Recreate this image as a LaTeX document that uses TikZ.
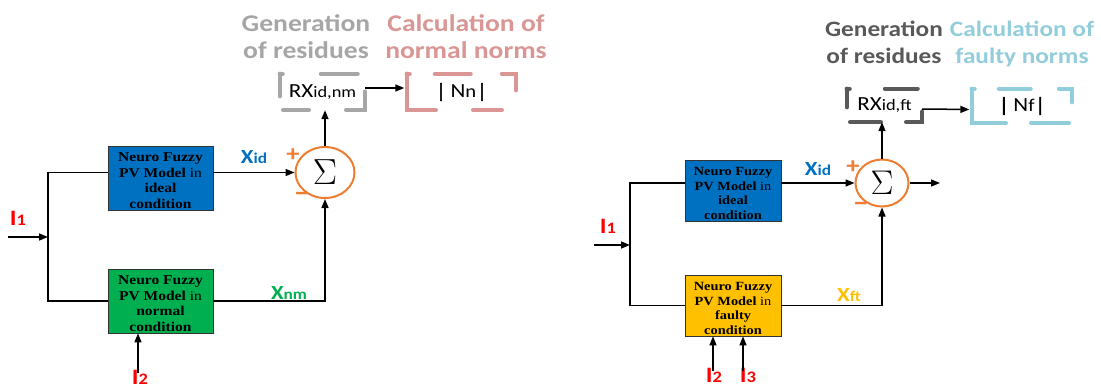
\documentclass[tikz,border=0pt]{standalone}
\usepackage{fontspec}
\setmainfont{Carlito}[FakeStretch=1.15]
\newfontfamily\modelfont{Liberation Serif}[FakeStretch=1.15]
\newfontfamily\barfont{Carlito}[FakeBold=2.5]
\usetikzlibrary{arrows.meta,shapes.geometric}

\definecolor{mblue}{HTML}{0070C0}
\definecolor{mgreen}{HTML}{00B050}
\definecolor{myellow}{HTML}{FFC000}
\definecolor{sumorange}{HTML}{ED7D31}
\definecolor{inred}{HTML}{FF0000}
\definecolor{resgray}{HTML}{A6A6A6}
\definecolor{normpink}{HTML}{D99694}
\definecolor{resdark}{HTML}{595959}
\definecolor{normcyan}{HTML}{92CDDC}

% symbol with a smaller trailing index set on the baseline
\newcommand\bigsmall[4]{{\fontsize{#1}{#1}\selectfont #2}{\fontsize{#3}{#3}\selectfont #4}}
% norm bars
\newcommand\nbar{{\barfont\fontsize{20}{20}\selectfont|}}
% pushes the model text a little below the block centre
\newcommand\topstrut{\rule{0pt}{14pt}}

\tikzset{
  model/.style={draw=black!80, line width=0.8pt, inner sep=0pt, align=center, text=black},
  wire/.style={line width=1.5pt},
  arr/.style={wire, -{Triangle[length=9pt,width=7pt]}},
  sumnode/.style={ellipse, draw=sumorange, line width=2pt, inner sep=0pt,
                  font=\fontsize{20.74}{20.74}\selectfont},
  lbl/.style={inner sep=0pt, font=\bfseries},
  sig/.style={inner sep=0pt, text=sumorange, font=\bfseries\fontsize{23}{23}\selectfont},
  minus/.style={inner sep=0pt, text=sumorange, font=\bfseries\fontsize{28}{28}\selectfont},
  headtxt/.style={inner sep=0pt, align=center, anchor=north},
  resid/.style={inner sep=0pt, font=\fontsize{20}{20}\selectfont},
  resframe/.style={line width=4.5pt, line cap=round},
}

\begin{document}
\begin{tikzpicture}[x=1pt, y=-1pt]
\useasboundingbox (0,0) rectangle (1101,388);

% ===================== normal-condition residual generator =====================
\node[model, fill=mblue, minimum width=105pt, minimum height=64pt,
      font=\modelfont\fontsize{13.5}{15.7}\selectfont] (L1) at (160.5,178)
  {\topstrut\textbf{Neuro Fuzzy}\\\textbf{PV Model} in\\\textbf{ideal}\\\textbf{condition}};
\node[model, fill=mgreen, minimum width=105pt, minimum height=64pt,
      font=\modelfont\fontsize{13.5}{15.7}\selectfont] (L2) at (160.5,301)
  {\topstrut\textbf{Neuro Fuzzy}\\\textbf{PV Model} in\\\textbf{normal}\\\textbf{condition}};
\node[sumnode, minimum width=59pt, minimum height=51pt] (Ls) at (325,172.5)
  {\scalebox{1.75}{$\Sigma$}};

\coordinate (Lj) at (48,237);
\coordinate (Lin) at (8,237);

\draw[wire] (L1.west |- Ls.center) -| (Lj) |- (L2.west);
\draw[arr] (Lin) -- (Lj);
\draw[arr] (L1.east |- Ls.center) -- (Ls.west);
\draw[arr] (L2.east) -| (Ls.south);

\node[lbl, text=inred] (Li1) at (18,218) {\bigsmall{22}{I}{16}{1}};
\node[lbl, text=inred] (Li2) at (140,377) {\bigsmall{22}{I}{16}{2}};
\draw[arr] (Li2.north) ++(-2,3) coordinate (Li2t) -- (Li2t |- L2.south);

\node[lbl, text=mblue]  (Lxid) at (254,157) {\bigsmall{20}{X}{15}{id}};
\node[lbl, text=mgreen] (Lxnm) at (289,293) {\bigsmall{20}{X}{15}{nm}};
\node[sig]   (Lplus)  at (293,155) {+};
\node[minus] (Lminus) at (302,197) {–};

% residue and norm blocks
\node[resid, minimum width=85pt, minimum height=36pt] (Lr) at (322.5,92)
  {RX\bigsmall{20}{}{16}{id,nm}};
\node[resid, minimum width=109pt, minimum height=36pt] (Ln) at (461.5,92)
  {\nbar\hspace{5pt}N\bigsmall{20}{}{18}{n}\hspace{1pt}\nbar};
\draw[resframe, draw=resgray,
      dash pattern=on 2.75pt off 38.5pt on 36.5pt off 25.5pt on 37.5pt off 37.5pt on 25.5pt off 17.5pt on 20.75pt off 1pt]
  (Lr.north west) -- (Lr.north east) -- (Lr.south east) -- (Lr.south west) -- cycle;
\draw[resframe, draw=normpink,
      dash pattern=on 2.75pt off 25.5pt on 35.5pt off 31.5pt on 30.5pt off 34.5pt on 28.5pt off 37.5pt on 63.75pt off 1pt]
  (Ln.north west) -- (Ln.north east) -- (Ln.south east) -- (Ln.south west) -- cycle;
\draw[arr] (Ls.north) -- (Ls.north |- Lr.south);
\draw[arr, shorten >=2.5pt] ([yshift=4pt]Lr.east) -- ([yshift=4pt]Ln.west);

\node[headtxt, text=resgray, font=\bfseries\fontsize{24}{27.5}\selectfont]
  (Lgen)  at (306,14) {Generation\\of residues};
\node[headtxt, text=normpink, font=\bfseries\fontsize{24}{27.5}\selectfont]
  (Lcalc) at (466,14) {Calculation of\\normal norms};

% ===================== faulty-condition residual generator =====================
\node[model, fill=mblue, minimum width=96pt, minimum height=61pt,
      font=\modelfont\fontsize{12.5}{14.8}\selectfont] (R1) at (733,190.5)
  {\topstrut\textbf{Neuro Fuzzy}\\\textbf{PV Model} in\\\textbf{ideal}\\\textbf{condition}};
\node[model, fill=myellow, minimum width=96pt, minimum height=61pt,
      font=\modelfont\fontsize{12.5}{14.8}\selectfont] (R2) at (733,305.5)
  {\topstrut\textbf{Neuro Fuzzy}\\\textbf{PV Model} in\\\textbf{faulty}\\\textbf{condition}};
\node[sumnode, minimum width=53pt, minimum height=47pt] (Rs) at (882,183)
  {\scalebox{1.65}{$\Sigma$}};

\coordinate (Rj) at (630,245);
\coordinate (Rin) at (594,245);
\coordinate (Rout) at (940,183);

\draw[wire] (R1.west |- Rs.center) -| (Rj) |- (R2.west);
\draw[arr] (Rin) -- (Rj);
\draw[arr] (R1.east |- Rs.center) -- (Rs.west);
\draw[arr] (R2.east) -| (Rs.south);
\draw[arr] (Rs.east) -- (Rout);

\node[lbl, text=inred] (Ri1) at (608,226) {\bigsmall{22}{I}{16}{1}};
\node[lbl, text=inred] (Ri2) at (714,375) {\bigsmall{22}{I}{16}{2}};
\node[lbl, text=inred] (Ri3) at (748,375) {\bigsmall{22}{I}{16}{3}};
\draw[arr] (Ri2.north) ++(-1,3) coordinate (Ri2t) -- (Ri2t |- R2.south);
\draw[arr] (Ri3.north) ++(-5,3) coordinate (Ri3t) -- (Ri3t |- R2.south);

\node[lbl, text=mblue]   (Rxid) at (818,169) {\bigsmall{20}{X}{15}{id}};
\node[lbl, text=myellow] (Rxft) at (849,295) {\bigsmall{20}{X}{15}{ft}};
\node[sig]   (Rplus)  at (853,167) {+};
\node[minus] (Rminus) at (861,207) {–};

\node[resid, minimum width=75pt, minimum height=33pt] (Rr) at (884.5,105.5)
  {RX\bigsmall{20}{}{16}{id,ft}};
\node[resid, minimum width=100pt, minimum height=34pt] (Rn) at (1022,106)
  {\nbar\hspace{5pt}N\bigsmall{20}{}{18}{f}\hspace{1pt}\nbar};
\draw[resframe, draw=resdark,
      dash pattern=on 2.75pt off 35.5pt on 32.5pt off 27.5pt on 26.5pt off 25.5pt on 30.5pt off 18.5pt on 16.75pt off 1pt]
  (Rr.north west) -- (Rr.north east) -- (Rr.south east) -- (Rr.south west) -- cycle;
\draw[resframe, draw=normcyan,
      dash pattern=on 2.75pt off 24.5pt on 31.5pt off 28.5pt on 26.5pt off 24.5pt on 37.5pt off 25.5pt on 66.75pt off 1pt]
  (Rn.north west) -- (Rn.north east) -- (Rn.south east) -- (Rn.south west) -- cycle;
\draw[arr] (Rs.north) -- (Rs.north |- Rr.south);
\draw[arr, shorten >=2.5pt] ([yshift=-3.5pt]Rr.east) -- ([yshift=-3.5pt]Rn.west);

\node[headtxt, text=resdark, font=\bfseries\fontsize{22}{26.5}\selectfont]
  (Rgen)  at (884,21)  {Generation\\of residues};
\node[headtxt, text=normcyan, font=\bfseries\fontsize{22}{26.5}\selectfont]
  (Rcalc) at (1022,21) {Calculation of\\faulty norms};

\end{tikzpicture}
\end{document}
